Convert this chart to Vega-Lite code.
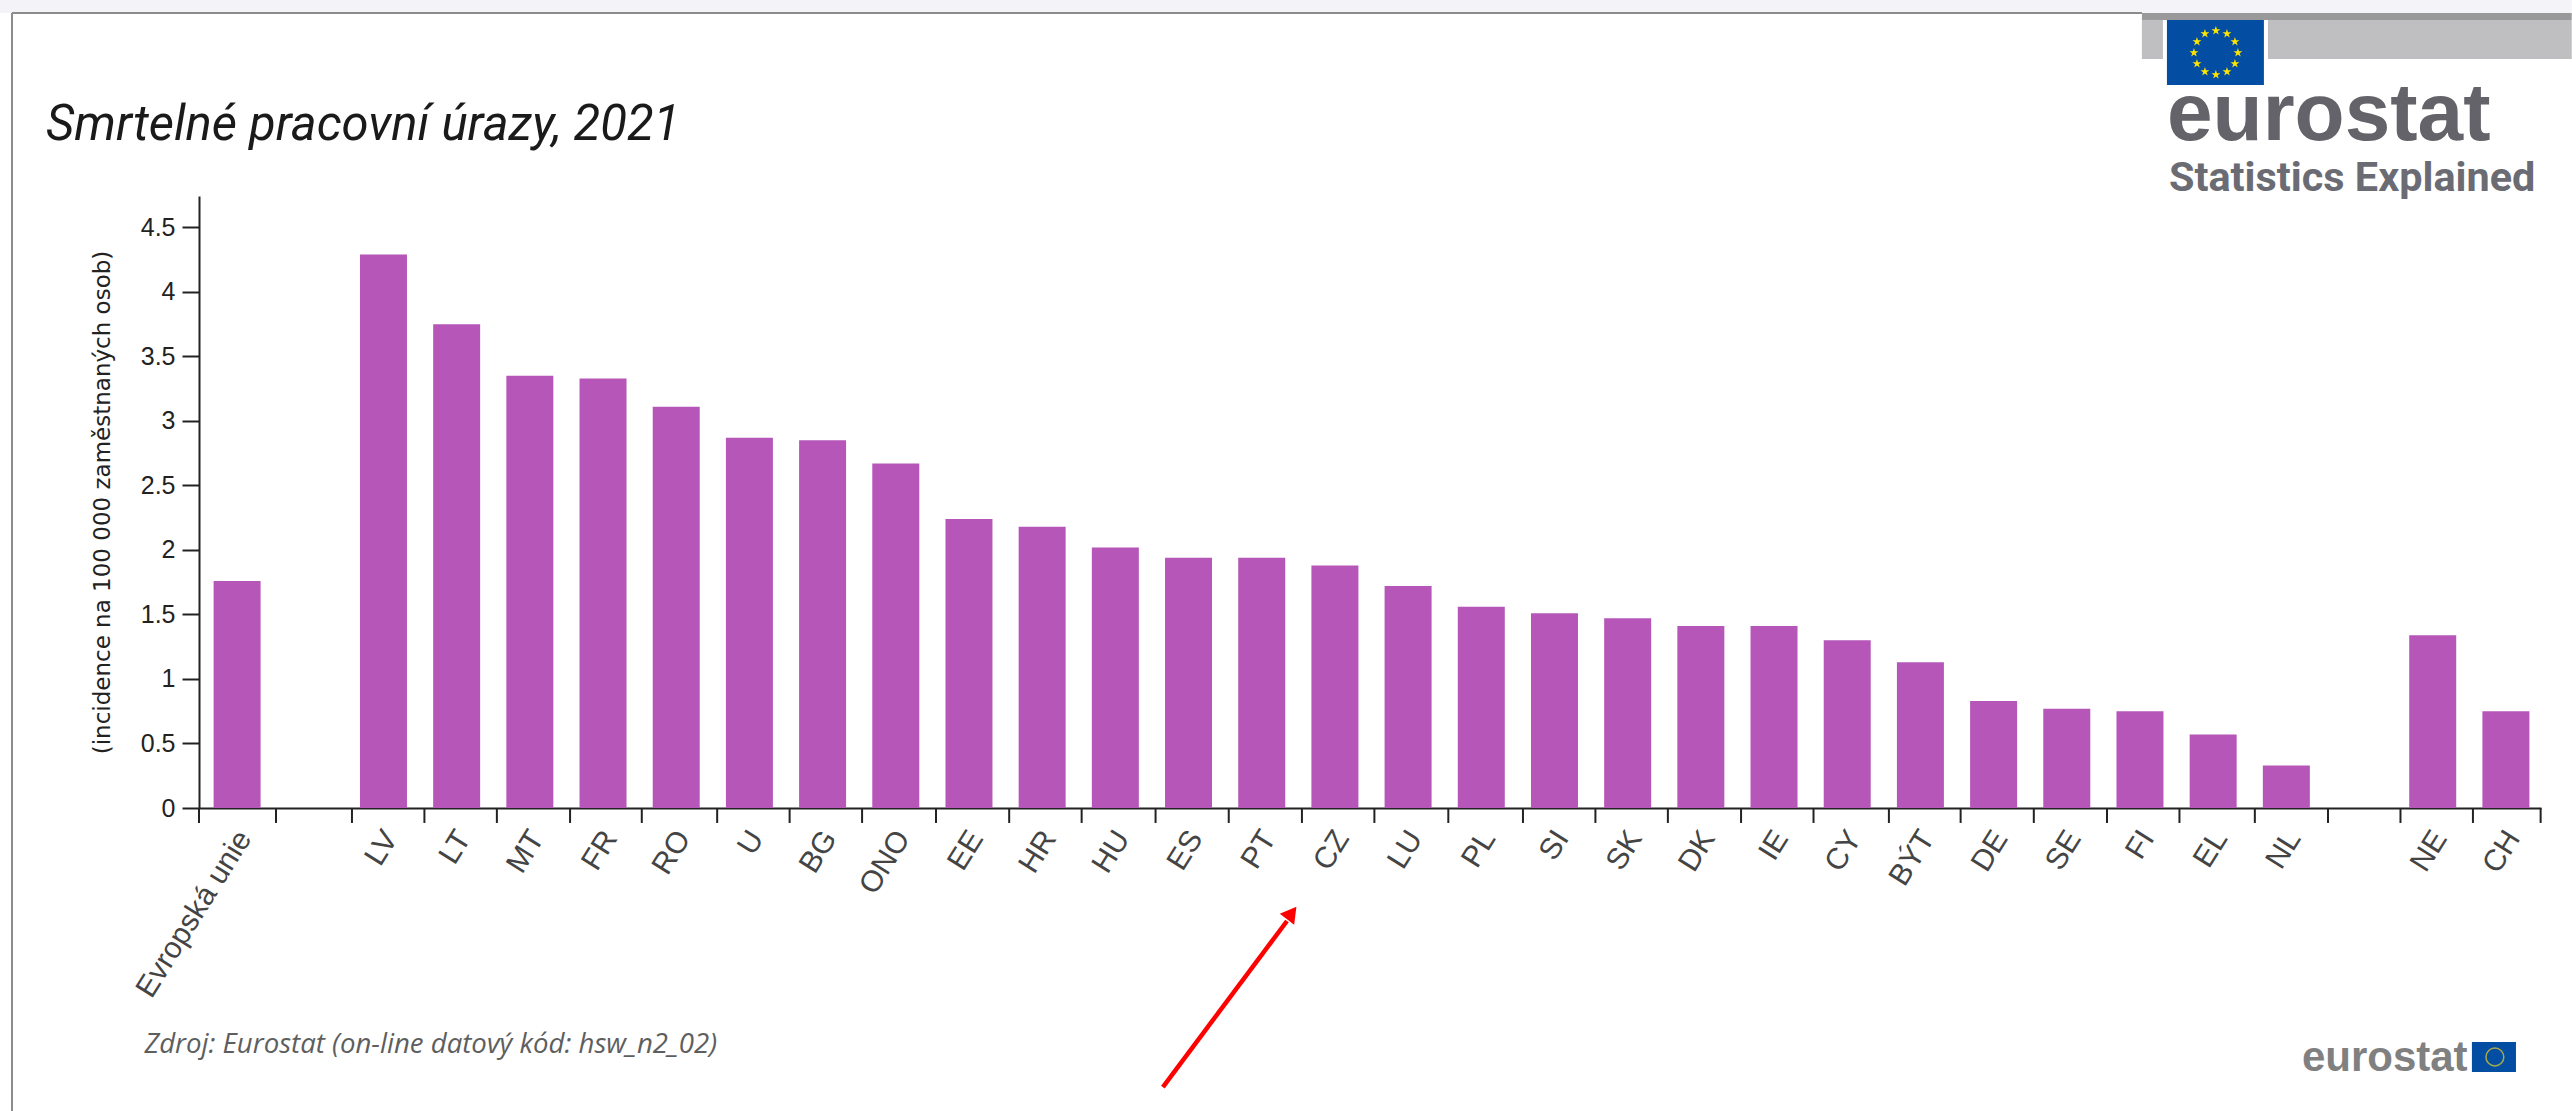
{"$schema":"https://vega.github.io/schema/vega-lite/v6.json","width":2342,"height":612,"autosize":"none","padding":{"left":199,"top":196,"right":31,"bottom":303},"background":"white","config":{"view":{"stroke":null}},"title":{"text":"Smrtelné pracovní úrazy, 2021","anchor":"start","frame":"group","align":"left","baseline":"alphabetic","offset":0,"dx":-153,"dy":189,"font":"Roboto","fontStyle":"italic","fontWeight":"normal","fontSize":49,"color":"#1a1a1a"},"resolve":{"scale":{"x":"independent"},"axis":{"x":"independent"}},"layer":[{"data":{"values":[{"c":"Evropská unie","value":1.76},{"c":"LV","value":4.29},{"c":"LT","value":3.75},{"c":"MT","value":3.35},{"c":"FR","value":3.33},{"c":"RO","value":3.11},{"c":"U","value":2.87},{"c":"BG","value":2.85},{"c":"ONO","value":2.67},{"c":"EE","value":2.24},{"c":"HR","value":2.18},{"c":"HU","value":2.02},{"c":"ES","value":1.94},{"c":"PT","value":1.94},{"c":"CZ","value":1.88},{"c":"LU","value":1.72},{"c":"PL","value":1.56},{"c":"SI","value":1.51},{"c":"SK","value":1.47},{"c":"DK","value":1.41},{"c":"IE","value":1.41},{"c":"CY","value":1.3},{"c":"BÝT","value":1.13},{"c":"DE","value":0.83},{"c":"SE","value":0.77},{"c":"FI","value":0.75},{"c":"EL","value":0.57},{"c":"NL","value":0.33},{"c":"NE","value":1.34},{"c":"CH","value":0.75}]},"mark":{"type":"bar","color":"#b556b8","width":{"band":0.642},"xOffset":1.5},"encoding":{"x":{"field":"c","type":"nominal","sort":null,"scale":{"domain":["Evropská unie"," ","LV","LT","MT","FR","RO","U","BG","ONO","EE","HR","HU","ES","PT","CZ","LU","PL","SI","SK","DK","IE","CY","BÝT","DE","SE","FI","EL","NL","  ","NE","CH"],"paddingInner":0,"paddingOuter":0},"axis":{"title":"Zdroj: Eurostat (on-line datový kód: hsw_n2_02)","titleFont":"Open Sans","titleFontStyle":"italic","titleFontWeight":"normal","titleFontSize":27.6,"titleColor":"#5e5e5e","titleX":-55,"titleY":244,"titleAlign":"left","titleAnchor":"start","titleBaseline":"alphabetic","ticks":false,"domainColor":"#222222","domainWidth":2,"labelAngle":-58,"labelAlign":"right","labelBaseline":"middle","labelFont":"Liberation Sans","labelFontSize":30,"labelColor":"#444444","labelPadding":25,"labelOffset":9,"labelLimit":500,"labelOverlap":false,"labelBound":false,"labelFlush":false}},"y":{"field":"value","type":"quantitative","scale":{"domain":[0,4.744],"nice":false,"zero":false},"axis":{"title":"(incidence na 100 000 zaměstnaných osob)","titleFont":"DejaVu Sans","titleFontWeight":"normal","titleFontSize":23,"titleColor":"#222222","titleX":-85,"titleY":306,"titleAlign":"center","titleAnchor":"middle","titleLimit":800,"values":[0,0.5,1,1.5,2,2.5,3,3.5,4,4.5],"format":".1~f","tickSize":17,"tickWidth":2,"tickColor":"#222222","domainColor":"#222222","domainWidth":2,"labelFont":"Liberation Sans","labelFontSize":25,"labelColor":"#222222","labelPadding":7,"grid":false}}}},{"data":{"values":[{"x":0,"y":0,"y2":-0.116},{"x":1.052,"y":0,"y2":-0.116},{"x":2.09,"y":0,"y2":-0.116},{"x":3.08,"y":0,"y2":-0.116},{"x":4.07,"y":0,"y2":-0.116},{"x":5.07,"y":0,"y2":-0.116},{"x":6.05,"y":0,"y2":-0.116},{"x":7.08,"y":0,"y2":-0.116},{"x":8.07,"y":0,"y2":-0.116},{"x":9.06,"y":0,"y2":-0.116},{"x":10.07,"y":0,"y2":-0.116},{"x":11.07,"y":0,"y2":-0.116},{"x":12.06,"y":0,"y2":-0.116},{"x":13.07,"y":0,"y2":-0.116},{"x":14.07,"y":0,"y2":-0.116},{"x":15.07,"y":0,"y2":-0.116},{"x":16.06,"y":0,"y2":-0.116},{"x":17.07,"y":0,"y2":-0.116},{"x":18.09,"y":0,"y2":-0.116},{"x":19.08,"y":0,"y2":-0.116},{"x":20.07,"y":0,"y2":-0.116},{"x":21.07,"y":0,"y2":-0.116},{"x":22.06,"y":0,"y2":-0.116},{"x":23.09,"y":0,"y2":-0.116},{"x":24.07,"y":0,"y2":-0.116},{"x":25.07,"y":0,"y2":-0.116},{"x":26.07,"y":0,"y2":-0.116},{"x":27.06,"y":0,"y2":-0.116},{"x":28.09,"y":0,"y2":-0.116},{"x":29.09,"y":0,"y2":-0.116},{"x":30.08,"y":0,"y2":-0.116},{"x":31.07,"y":0,"y2":-0.116},{"x":31.995,"y":0,"y2":-0.116}]},"mark":{"type":"rule","color":"#222222","strokeWidth":2},"encoding":{"x":{"field":"x","type":"quantitative","scale":{"domain":[0,32]},"axis":null},"y":{"field":"y","type":"quantitative"},"y2":{"field":"y2"}}},{"data":{"values":[{"part":"strip","x":-2.719,"x2":32.42,"y":6.264,"y2":6.163},{"part":"dark","x":26.547,"x2":32.42,"y":6.163,"y2":6.109},{"part":"light","x":26.547,"x2":26.834,"y":6.109,"y2":5.806},{"part":"light","x":28.269,"x2":32.42,"y":6.109,"y2":5.806},{"part":"flag","x":26.889,"x2":28.214,"y":6.109,"y2":5.605},{"part":"flag","x":31.056,"x2":31.658,"y":-1.814,"y2":-2.047}]},"mark":{"type":"rect"},"encoding":{"x":{"field":"x","type":"quantitative","scale":{"domain":[0,32]},"axis":null},"x2":{"field":"x2"},"y":{"field":"y","type":"quantitative"},"y2":{"field":"y2"},"color":{"field":"part","type":"nominal","legend":null,"scale":{"domain":["strip","dark","light","flag"],"range":["#f4f4f8","#999999","#bfbfc1","#034ea2"]}}}},{"data":{"values":[{"x":-2.555,"x2":26.547,"y":6.163,"y2":6.163},{"x":-2.555,"x2":-2.555,"y":6.163,"y2":-2.349}]},"mark":{"type":"rule","color":"#8c8c8c","strokeWidth":2},"encoding":{"x":{"field":"x","type":"quantitative","scale":{"domain":[0,32]},"axis":null},"x2":{"field":"x2"},"y":{"field":"y","type":"quantitative"},"y2":{"field":"y2"}}},{"data":{"values":[{"x":27.558,"y":6.026},{"x":27.709,"y":6.002},{"x":27.818,"y":5.94},{"x":27.859,"y":5.855},{"x":27.818,"y":5.77},{"x":27.709,"y":5.708},{"x":27.558,"y":5.685},{"x":27.408,"y":5.708},{"x":27.299,"y":5.77},{"x":27.258,"y":5.855},{"x":27.299,"y":5.94},{"x":27.408,"y":6.002}]},"mark":{"type":"point","filled":true,"color":"#ffe500","opacity":1,"size":90,"shape":"M0,-1L.22,-.31L.95,-.31L.36,.12L.59,.81L0,.38L-.59,.81L-.36,.12L-.95,-.31L-.22,-.31Z"},"encoding":{"x":{"field":"x","type":"quantitative","scale":{"domain":[0,32]},"axis":null},"y":{"field":"y","type":"quantitative"}}},{"data":{"values":[{"x":31.37,"y":-1.93}]},"mark":{"type":"point","filled":false,"color":"#a8a94a","opacity":1,"strokeWidth":1.5,"size":320},"encoding":{"x":{"field":"x","type":"quantitative","scale":{"domain":[0,32]},"axis":null},"y":{"field":"y","type":"quantitative"}}},{"data":{"values":[{"t":"eurostat","x":26.889,"y":5.178}]},"mark":{"type":"text","align":"left","baseline":"alphabetic","font":"Liberation Sans","fontWeight":"bold","fontSize":82,"color":"#636369"},"encoding":{"x":{"field":"x","type":"quantitative","scale":{"domain":[0,32]},"axis":null},"y":{"field":"y","type":"quantitative"},"text":{"field":"t"}}},{"data":{"values":[{"t":"Statistics Explained","x":26.916,"y":4.783}]},"mark":{"type":"text","align":"left","baseline":"alphabetic","font":"Roboto","fontWeight":"bold","fontSize":41.4,"color":"#6a6b73"},"encoding":{"x":{"field":"x","type":"quantitative","scale":{"domain":[0,32]},"axis":null},"y":{"field":"y","type":"quantitative"},"text":{"field":"t"}}},{"data":{"values":[{"t":"eurostat","x":28.733,"y":-2.039}]},"mark":{"type":"text","align":"left","baseline":"alphabetic","font":"Liberation Sans","fontWeight":"bold","fontSize":42,"color":"#808080"},"encoding":{"x":{"field":"x","type":"quantitative","scale":{"domain":[0,32]},"axis":null},"y":{"field":"y","type":"quantitative"},"text":{"field":"t"}}},{"data":{"values":[{"x":13.17,"x2":14.866,"y":-2.163,"y2":-0.876}]},"mark":{"type":"rule","color":"#ff0000","strokeWidth":4.5},"encoding":{"x":{"field":"x","type":"quantitative","scale":{"domain":[0,32]},"axis":null},"x2":{"field":"x2"},"y":{"field":"y","type":"quantitative"},"y2":{"field":"y2"}}},{"data":{"values":[{"x":14.93,"y":-0.814}]},"mark":{"type":"point","shape":"triangle-up","filled":true,"color":"#ff0000","opacity":1,"size":324,"angle":37},"encoding":{"x":{"field":"x","type":"quantitative","scale":{"domain":[0,32]},"axis":null},"y":{"field":"y","type":"quantitative"}}}]}
